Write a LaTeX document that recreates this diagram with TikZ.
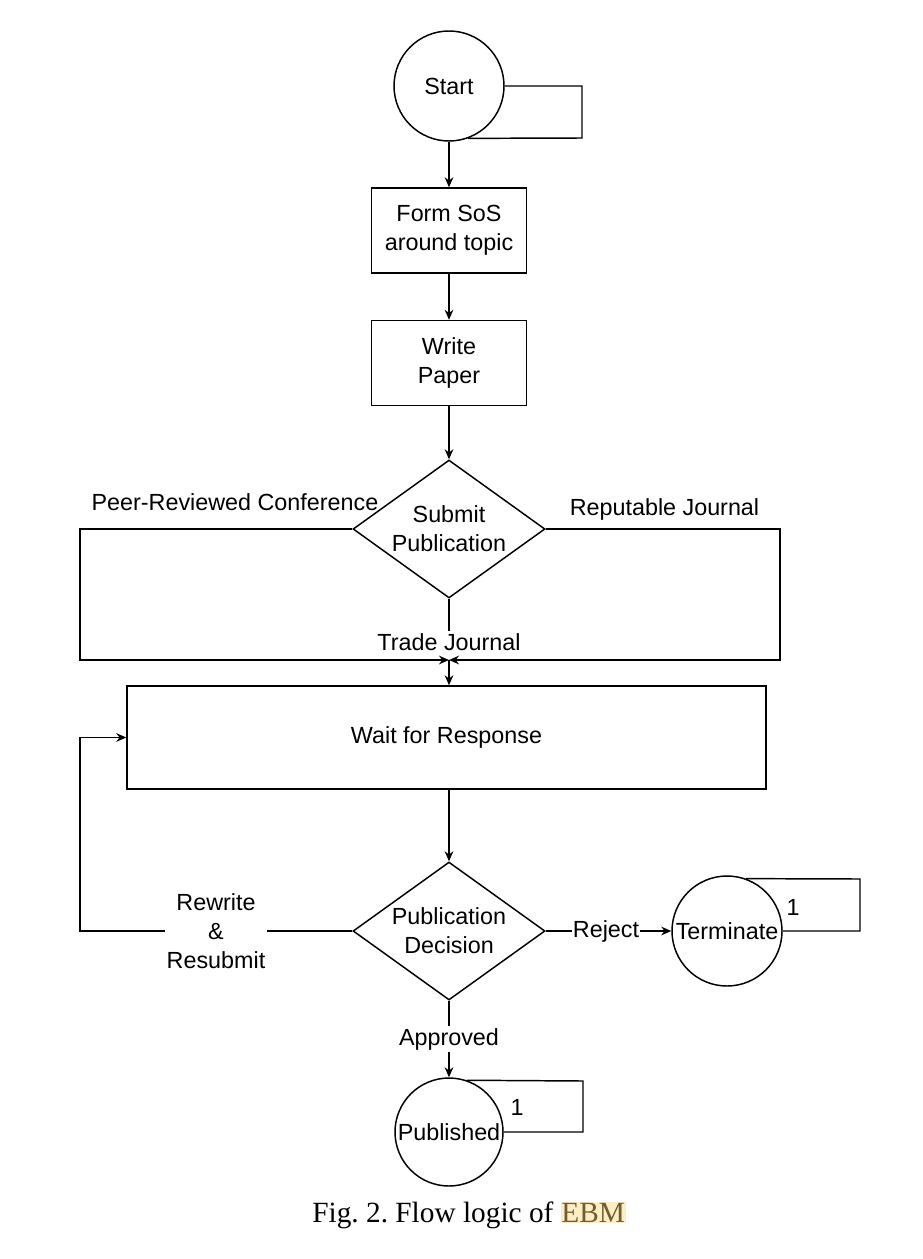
\documentclass[tikz,border=0pt]{standalone}
\usepackage{fontspec}
\setmainfont{Liberation Sans}
\newfontfamily\capfont{Liberation Serif}
\usetikzlibrary{shapes.geometric,arrows.meta}
\definecolor{ebmtext}{RGB}{115,92,48}
\definecolor{ebmhl}{RGB}{252,238,196}
\frenchspacing
\begin{document}
\begin{tikzpicture}[x=0.75pt,y=-0.75pt,line width=1.1pt,
  every node/.style={font=\fontsize{17.5}{21.75}\selectfont},
  circ/.style={draw,circle,minimum size=82.5pt,inner sep=0pt},
  box/.style={draw,rectangle,align=center,inner sep=0pt,minimum width=116.25pt,minimum height=63.75pt},
  dia/.style={draw,diamond,inner sep=0pt,minimum width=144pt,minimum height=103.5pt},
  arr/.style={-{Stealth[length=7.5pt,width=6.5pt]}},
  lbl/.style={inner sep=1pt,align=center}
]
\useasboundingbox (0,0) rectangle (922,1259);

% nodes
\node[circ] (start) at (449,86) {Start};
\node[box] (form) at (449,230.5) {Form SoS\\around topic};
\node[box] (write) at (449,363) {Write\\Paper};
\node[dia] (sub) at (449,529) {};
\node[lbl] (subt) at (sub) {Submit\\Publication};
\node[lbl] (peer) at (235,502) {Peer-Reviewed Conference};
\node[lbl] (rep) at (664.5,509) {Reputable Journal};
\node[lbl] (tj) at (449,642) {Trade Journal};
\coordinate (m) at (449,660);
\node[box,minimum width=479.25pt,minimum height=77.25pt] (wait) at (446.5,737.5) {Wait for Response};
\node[dia] (dec) at (449,931) {};
\node[lbl] (dect) at (dec) {Publication\\Decision};
\node[lbl] (rw) at (216,931) {Rewrite\\\&\\Resubmit};
\node[lbl,inner sep=0.5pt] (rej) at (606,931) {Reject};
\node[circ] (term) at (727,931) {};
\node[inner sep=0pt] (termt) at (term) {Terminate};
\node[lbl] (one1) at (793,907) {1};
\node[lbl] (app) at (449,1039) {Approved};
\node[circ,minimum size=81pt] (pub) at (449,1132) {};
\node[inner sep=0pt] (pubt) at (pub) {Published};
\node[lbl] (one2) at (517,1107) {1};
\node[inner sep=1pt,font=\capfont\fontsize{22}{26}\selectfont] (cap) at (469,1215)
  {Fig. 2. Flow logic of {\setlength\fboxsep{0.5pt}\colorbox{ebmhl}{\textcolor{ebmtext}{EBM}}}};

% coordinates for loops and bends
\coordinate (s1) at (582,86);
\coordinate (s2) at (582,138);
\coordinate (pl) at (80,529);
\coordinate (pl2) at (80,660);
\coordinate (pr) at (780,529);
\coordinate (pr2) at (780,660);
\coordinate (rl) at (80,931);
\coordinate (rl2) at (80,737.5);
\coordinate (t1) at (860,879);
\coordinate (t2) at (860,931);
\coordinate (p1) at (583,1081);
\coordinate (p2) at (583,1132);

% connectors
\draw (start.east) -- (s1) -- (s2) -- (start.-70);
\draw[arr] (start) -- (form);
\draw[arr] (form) -- (write);
\draw[arr] (write) -- (sub.north);
\draw[arr] (sub.west) -- (pl) -- (pl2) -- (m);
\draw[arr] (sub.east) -- (pr) -- (pr2) -- (m);
\draw (sub.south) -- (tj.north);
\draw[arr] (m) -- (m |- wait.north);
\draw[arr] (wait.south -| dec.north) -- (dec.north);
\draw (dec.west) -- (rw.east);
\draw[arr] (rw.west) -- (rl) -- (rl2) -- (wait.west);
\draw (dec.east) -- (rej.west);
\draw[arr] (rej.east) -- (term.west);
\draw (term.70) -- (t1) -- (t2) -- (term.east);
\draw (dec.south) -- (app.north);
\draw[arr] (app.south) -- (pub.north);
\draw (pub.71) -- (p1) -- (p2) -- (pub.east);
\end{tikzpicture}
\end{document}
